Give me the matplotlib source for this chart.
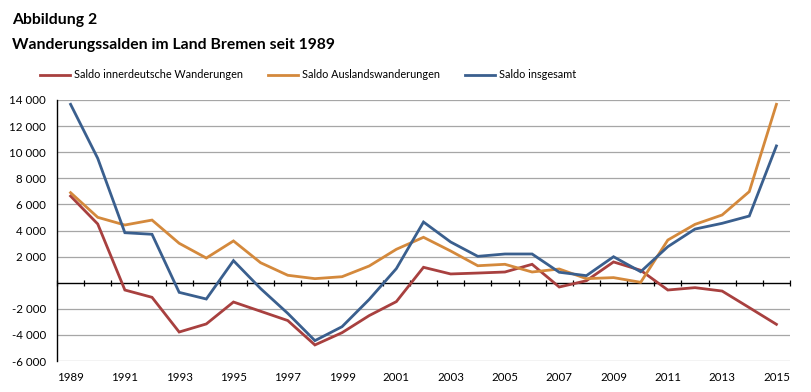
import matplotlib
matplotlib.use("Agg")
import matplotlib.pyplot as plt
import numpy as np

years = list(range(1989, 2016))
innerdeutsch = [6640, 4500, -560, -1120, -3780, -3160, -1480, -2190, -2900, -4770,
                -3830, -2520, -1450, 1180, 670, 740, 820, 1410, -330, 150,
                1590, 950, -560, -380, -640, -1910, -3190]
ausland = [6900, 5010, 4420, 4800, 3020, 1890, 3200, 1530, 570, 310,
           460, 1280, 2560, 3480, 2430, 1300, 1410, 820, 1050, 310,
           390, 30, 3270, 4470, 5190, 6980, 13670]
insgesamt = [13670, 9530, 3830, 3710, -740, -1250, 1690, -450, -2350, -4440,
             -3370, -1280, 1080, 4650, 3120, 2020, 2200, 2200, 800, 540,
             1990, 840, 2760, 4110, 4550, 5110, 10480]
series_names = ["Saldo innerdeutsche Wanderungen", "Saldo Auslandswanderungen", "Saldo insgesamt"]
colors = ["#A8403F", "#D4893C", "#3A5F8E"]
yticks = list(range(-6000, 14001, 2000))

plt.rcParams['font.family'] = ['Lato', 'DejaVu Sans']

fig = plt.figure(figsize=(8.11, 3.92), dpi=100)
ax = fig.add_axes([57/811, 1-361/392, (790-57)/811, (361-100)/392])

x = np.arange(len(years))
lines = []
for vals, c, n in zip([innerdeutsch, ausland, insgesamt], colors, series_names):
    l, = ax.plot(x, vals, color=c, lw=2.0, label=n, solid_joinstyle='miter', zorder=3)
    lines.append(l)

ax.set_xlim(-0.5, len(years)-0.5)
ax.set_ylim(-6000, 14000)
ax.set_yticks(yticks)
def fmt(v):
    s = f"{abs(v):,}".replace(",", " ")
    return ("-" if v < 0 else "") + s if v != 0 else ""
ax.set_yticklabels([fmt(v) for v in yticks], fontsize=8.3)
ax.tick_params(axis='y', length=0, pad=8)
for v in yticks:
    if v != 0:
        ax.axhline(v, color="#A6A6A6", lw=0.9, zorder=1)
ax.axhline(0, color="black", lw=1.0, zorder=2)

ax.set_xticks(x[::2])
ax.set_xticklabels([str(y) for y in years[::2]], fontsize=8.3)
ax.tick_params(axis='x', length=0, pad=8)

for s in ['top', 'right', 'bottom']:
    ax.spines[s].set_visible(False)
ax.spines['left'].set_color('black')
ax.spines['left'].set_linewidth(1.0)

sec = ax.secondary_xaxis(6000/20000)
sec.set_xticks(np.arange(-0.5, len(years), 1.0))
sec.set_xticklabels([])
sec.tick_params(axis='x', length=5, width=0.9, direction='inout', color='black')
sec.spines['bottom'].set_visible(False)

fig.text(12/811, 1-20/392, "Abbildung 2", fontsize=11.3, fontweight='bold', va='center', ha='left')
fig.text(12/811, 1-45/392, "Wanderungssalden im Land Bremen seit 1989", fontsize=11.3,
         fontweight='bold', va='center', ha='left')

fig.legend(handles=lines, loc='center left', bbox_to_anchor=(30/811, 1-75/392), ncol=3,
           frameon=False, fontsize=7.8, handlelength=2.8, handletextpad=0.35, columnspacing=2.3)

fig.savefig("out.png", dpi=100)
